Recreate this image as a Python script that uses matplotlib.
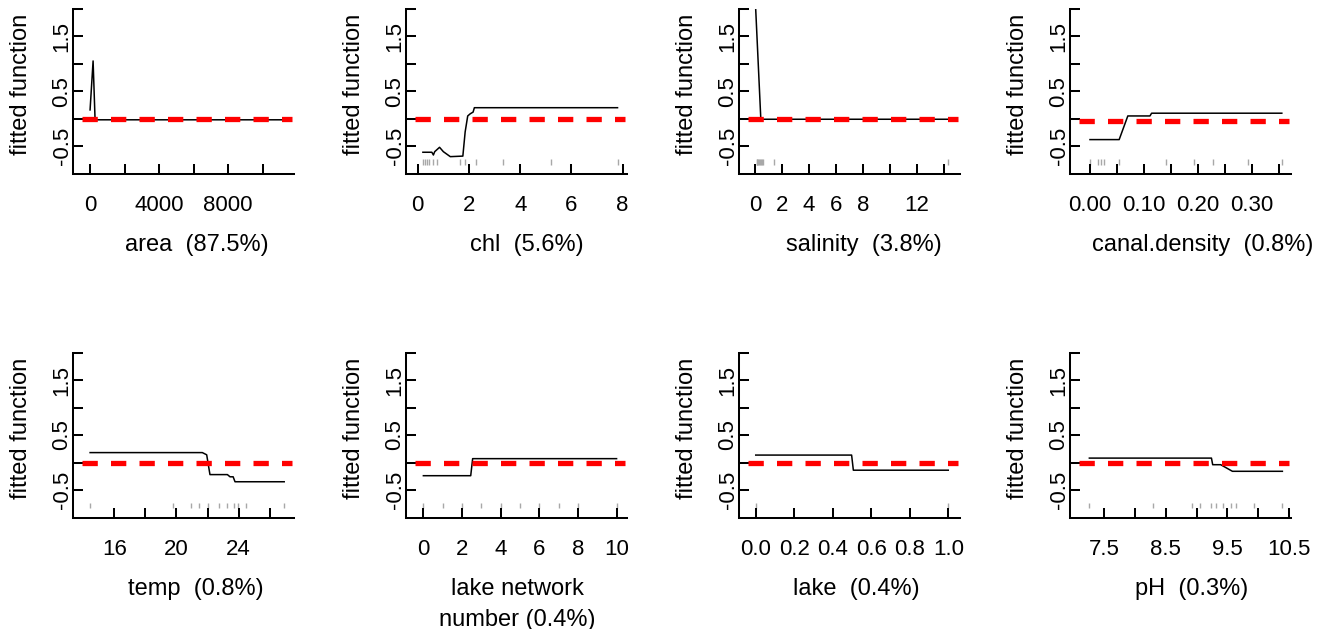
import matplotlib
matplotlib.use("Agg")
import matplotlib.pyplot as plt

plt.rcParams.update(
    {
        "font.family": ["Liberation Sans", "DejaVu Sans"],
        "axes.unicode_minus": False,
    }
)

# ---------------------------------------------------------------------------
# Partial dependence curves
# ---------------------------------------------------------------------------

area_x = [0, 175, 290, 11250]
area_y = [0.16, 1.05, -0.02, -0.02]
area_rug = []

chl_x = [0.2, 0.55, 0.61, 0.66, 0.85, 1.0, 1.27, 1.76, 1.85, 1.95, 2.05, 2.16, 2.21, 7.8]
chl_y = [-0.61, -0.61, -0.66, -0.6, -0.52, -0.6, -0.69, -0.68, -0.24, 0.05, 0.09, 0.12, 0.2, 0.2]
chl_rug = [0.22, 0.29, 0.35, 0.42, 0.61, 0.77, 1.63, 1.84, 2.26, 3.32, 5.19, 7.8]

salinity_x = [0.05, 0.42, 0.5, 14.3]
salinity_y = [1.98, 0.03, -0.01, -0.01]
salinity_rug = [0.12, 0.18, 0.24, 0.3, 0.36, 0.42, 0.5, 0.58, 1.41, 14.27]

canal_x = [0.0, 0.054, 0.070, 0.111, 0.114, 0.355]
canal_y = [-0.38, -0.38, 0.05, 0.05, 0.10, 0.10]
canal_rug = [0.0, 0.015, 0.021, 0.026, 0.053, 0.141, 0.193, 0.227, 0.293, 0.355]

temp_x = [14.45, 21.66, 21.94, 22.15, 23.27, 23.44, 23.64, 23.76, 26.92]
temp_y = [0.18, 0.18, 0.14, -0.22, -0.22, -0.26, -0.26, -0.35, -0.35]
temp_rug = [14.45, 19.76, 20.9, 21.44, 22.02, 22.73, 23.23, 23.7, 23.95, 24.45, 26.92]

network_x = [0, 2.45, 2.55, 10]
network_y = [-0.24, -0.24, 0.07, 0.07]
network_rug = [0, 1, 2, 3, 4, 5, 6, 7, 8, 10]

lake_x = [0.0, 0.498, 0.507, 1.0]
lake_y = [0.135, 0.135, -0.14, -0.14]
lake_rug = [0.0, 1.0]

ph_x = [7.26, 9.24, 9.26, 9.39, 9.58, 10.39]
ph_y = [0.08, 0.08, -0.04, -0.04, -0.16, -0.16]
ph_rug = [7.26, 8.29, 8.93, 9.05, 9.23, 9.32, 9.43, 9.56, 9.63, 9.93, 10.39]

labels = [
    "area  (87.5%)",
    "chl  (5.6%)",
    "salinity  (3.8%)",
    "canal.density  (0.8%)",
    "temp  (0.8%)",
    "lake network\nnumber (0.4%)",
    "lake  (0.4%)",
    "pH  (0.3%)",
]
ref_levels = [0, 0, 0, -0.04, 0, 0, 0, 0]

x_ticks = [
    [0, 2000, 4000, 6000, 8000, 10000],
    [0, 2, 4, 6, 8],
    [0, 2, 4, 6, 8, 10, 12, 14],
    [0, 0.05, 0.10, 0.15, 0.20, 0.25, 0.30, 0.35],
    [16, 18, 20, 22, 24, 26],
    [0, 2, 4, 6, 8, 10],
    [0, 0.2, 0.4, 0.6, 0.8, 1.0],
    [7.5, 8, 8.5, 9, 9.5, 10, 10.5],
]
x_ticklabels = [
    ["0", "", "4000", "", "8000", ""],
    ["0", "2", "4", "6", "8"],
    ["0", "2", "4", "6", "8", "", "12", ""],
    ["0.00", "", "0.10", "", "0.20", "", "0.30", ""],
    ["16", "", "20", "", "24", ""],
    ["0", "2", "4", "6", "8", "10"],
    ["0.0", "0.2", "0.4", "0.6", "0.8", "1.0"],
    ["7.5", "", "8.5", "", "9.5", "", "10.5"],
]
y_ticks = [-0.5, 0, 0.5, 1.0, 1.5, 2.0]
y_ticklabels = ["-0.5", "", "0.5", "", "1.5", ""]

curves = [
    (area_x, area_y, area_rug),
    (chl_x, chl_y, chl_rug),
    (salinity_x, salinity_y, salinity_rug),
    (canal_x, canal_y, canal_rug),
    (temp_x, temp_y, temp_rug),
    (network_x, network_y, network_rug),
    (lake_x, lake_y, lake_rug),
    (ph_x, ph_y, ph_rug),
]

# ---------------------------------------------------------------------------
# Layout (pixels on a 1330 x 629 canvas)
# ---------------------------------------------------------------------------
FIG_W, FIG_H = 1330, 629
LEFTS = [73, 406, 739, 1070]
TOPS = [8.7, 352.5]
AX_W, AX_H = 221, 165
XLIMS = [
    (-990, 11826),
    (-0.46, 8.17),
    (-1.19, 15.19),
    (-0.037, 0.372),
    (13.35, 27.55),
    (-0.9, 10.54),
    (-0.087, 1.061),
    (6.946, 10.53),
]
XLABEL_POS = [0.560, 0.546, 0.567, 0.600, 0.556, 0.505, 0.533, 0.551]

fig = plt.figure(figsize=(FIG_W / 100, FIG_H / 100), dpi=100)

for i, (xs, ys, rug) in enumerate(curves):
    row, col = divmod(i, 4)
    l, t = LEFTS[col], TOPS[row]
    ax = fig.add_axes(
        [l / FIG_W, 1 - (t + AX_H) / FIG_H, AX_W / FIG_W, AX_H / FIG_H]
    )

    if rug:
        ax.vlines(rug, -0.835, -0.735, color="#a8a8a8", linewidth=1.0, zorder=1)
    ax.plot(xs, ys, color="black", linewidth=1.1, zorder=3)
    ax.axhline(
        ref_levels[i],
        xmin=0.042,
        xmax=0.99,
        color="#ff0000",
        linewidth=3.8,
        dashes=(2.9, 2.5),
        zorder=4,
    )

    ax.set_xlim(*XLIMS[i])
    ax.set_ylim(-1, 2)
    for side in ("top", "right"):
        ax.spines[side].set_visible(False)
    for side in ("left", "bottom"):
        ax.spines[side].set_linewidth(1.45)

    ax.set_xticks(x_ticks[i])
    ax.set_xticklabels(x_ticklabels[i])
    ax.set_yticks(y_ticks)
    ax.set_yticklabels(y_ticklabels)
    ax.tick_params(direction="in", length=7, width=1.45, labelsize=16, colors="black")
    ax.tick_params(axis="x", pad=15.5)
    ax.tick_params(axis="y", pad=0.3)
    for lbl in ax.get_yticklabels():
        lbl.set_rotation(90)
        lbl.set_va("center")

    ax.set_xlabel(labels[i], fontsize=17, linespacing=1.55)
    ax.xaxis.set_label_coords(XLABEL_POS[i], -0.364)
    ax.set_ylabel("fitted function", fontsize=17)
    ax.yaxis.set_label_coords(-0.187, 0.539)

fig.savefig("out.png", dpi=100)
